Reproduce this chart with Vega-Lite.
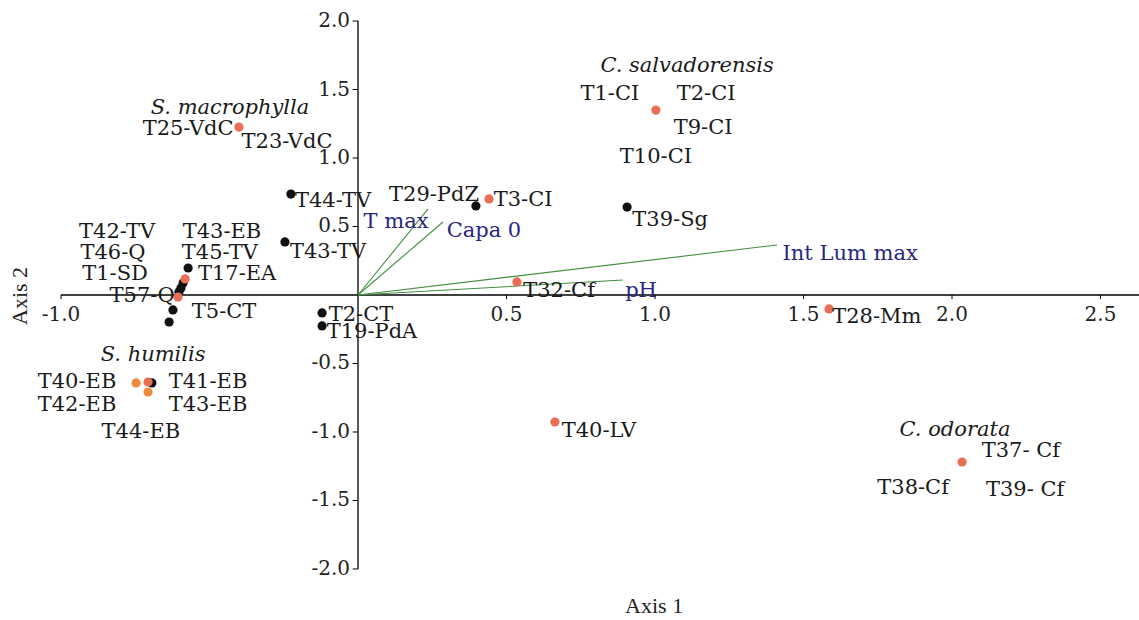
{
  "$schema": "https://vega.github.io/schema/vega-lite/v6.json",
  "width": 1139,
  "height": 620,
  "autosize": {"type": "none"},
  "padding": 0,
  "background": "white",
  "config": {"view": {"stroke": null}},
  "datasets": {
    "points": [
      {"x": -0.226, "y": 0.737, "group": "black"},
      {"x": 0.397, "y": 0.650, "group": "black"},
      {"x": 0.906, "y": 0.642, "group": "black"},
      {"x": -0.246, "y": 0.387, "group": "black"},
      {"x": -0.121, "y": -0.131, "group": "black"},
      {"x": -0.121, "y": -0.226, "group": "black"},
      {"x": -0.572, "y": 0.197, "group": "black"},
      {"x": -0.589, "y": 0.088, "group": "black"},
      {"x": -0.596, "y": 0.051, "group": "black"},
      {"x": -0.603, "y": 0.022, "group": "black"},
      {"x": -0.623, "y": -0.109, "group": "black"},
      {"x": -0.636, "y": -0.197, "group": "black"},
      {"x": -0.694, "y": -0.642, "group": "black"},
      {"x": -0.747, "y": -0.642, "group": "orange"},
      {"x": -0.707, "y": -0.708, "group": "orange"},
      {"x": -0.401, "y": 1.226, "group": "salmon"},
      {"x": 1.003, "y": 1.350, "group": "salmon"},
      {"x": 0.441, "y": 0.701, "group": "salmon"},
      {"x": 0.535, "y": 0.095, "group": "salmon"},
      {"x": 1.586, "y": -0.102, "group": "salmon"},
      {"x": 0.663, "y": -0.927, "group": "salmon"},
      {"x": 2.034, "y": -1.219, "group": "salmon"},
      {"x": -0.582, "y": 0.117, "group": "salmon"},
      {"x": -0.606, "y": -0.015, "group": "salmon"},
      {"x": -0.707, "y": -0.635, "group": "salmon"}
    ],
    "labels": [
      {"label": "T25-VdC", "x": -0.572, "y": 1.212},
      {"label": "T23-VdC", "x": -0.239, "y": 1.117},
      {"label": "T1-CI", "x": 0.848, "y": 1.467},
      {"label": "T2-CI", "x": 1.172, "y": 1.467},
      {"label": "T9-CI", "x": 1.162, "y": 1.219},
      {"label": "T10-CI", "x": 1.003, "y": 1.007},
      {"label": "T44-TV", "x": -0.084, "y": 0.686},
      {"label": "T29-PdZ", "x": 0.256, "y": 0.730},
      {"label": "T3-CI", "x": 0.556, "y": 0.693},
      {"label": "T39-Sg", "x": 1.051, "y": 0.547},
      {"label": "T42-TV", "x": -0.811, "y": 0.460},
      {"label": "T43-EB", "x": -0.458, "y": 0.460},
      {"label": "T46-Q", "x": -0.825, "y": 0.307},
      {"label": "T45-TV", "x": -0.465, "y": 0.307},
      {"label": "T43-TV", "x": -0.101, "y": 0.314},
      {"label": "T1-SD", "x": -0.818, "y": 0.153},
      {"label": "T17-EA", "x": -0.407, "y": 0.153},
      {"label": "T57-Q", "x": -0.727, "y": -0.007},
      {"label": "T5-CT", "x": -0.451, "y": -0.124},
      {"label": "T2-CT", "x": 0.010, "y": -0.146},
      {"label": "T19-PdA", "x": 0.047, "y": -0.270},
      {"label": "T32-Cf", "x": 0.677, "y": 0.029},
      {"label": "T28-Mm", "x": 1.747, "y": -0.161},
      {"label": "T40-EB", "x": -0.946, "y": -0.635},
      {"label": "T41-EB", "x": -0.505, "y": -0.635},
      {"label": "T42-EB", "x": -0.946, "y": -0.803},
      {"label": "T43-EB", "x": -0.505, "y": -0.803},
      {"label": "T44-EB", "x": -0.731, "y": -1.000},
      {"label": "T40-LV", "x": 0.811, "y": -0.993},
      {"label": "T37- Cf", "x": 2.232, "y": -1.139},
      {"label": "T38-Cf", "x": 1.869, "y": -1.409},
      {"label": "T39- Cf", "x": 2.246, "y": -1.423}
    ],
    "species": [
      {"label": "S. macrophylla", "x": -0.431, "y": 1.365},
      {"label": "C. salvadorensis", "x": 1.108, "y": 1.672},
      {"label": "S. humilis", "x": -0.690, "y": -0.438},
      {"label": "C. odorata", "x": 2.010, "y": -0.985}
    ],
    "vectors": [
      {"variable": "T max", "x": 0.236, "y": 0.628},
      {"variable": "Capa 0", "x": 0.286, "y": 0.533},
      {"variable": "Int Lum max", "x": 1.411, "y": 0.365},
      {"variable": "pH", "x": 0.892, "y": 0.109}
    ],
    "vectorLabels": [
      {"variable": "T max", "x": 0.128, "y": 0.533},
      {"variable": "Capa 0", "x": 0.424, "y": 0.467},
      {"variable": "Int Lum max", "x": 1.657, "y": 0.299},
      {"variable": "pH", "x": 0.953, "y": 0.029}
    ],
    "axisLines": [
      {"x": -1.0, "x2": 2.6296, "y": 0, "y2": 0},
      {"x": 0, "x2": 0, "y": -2.0, "y2": 2.0}
    ],
    "xTicks": [
      {"x": -1.0, "label": "-1.0"}, {"x": 0.5, "label": "0.5"}, {"x": 1.0, "label": "1.0"},
      {"x": 1.5, "label": "1.5"}, {"x": 2.0, "label": "2.0"}, {"x": 2.5, "label": "2.5"}
    ],
    "yTicks": [
      {"y": 2.0, "label": "2.0"}, {"y": 1.5, "label": "1.5"}, {"y": 1.0, "label": "1.0"},
      {"y": 0.5, "label": "0.5"}, {"y": -0.5, "label": "-0.5"}, {"y": -1.0, "label": "-1.0"},
      {"y": -1.5, "label": "-1.5"}, {"y": -2.0, "label": "-2.0"}
    ],
    "titles": [
      {"title": "Axis 1", "x": 0.997, "y": -2.268, "angle": 0},
      {"title": "Axis 2", "x": -1.138, "y": -0.007, "angle": 270}
    ]
  },
  "encoding": {
    "x": {"type": "quantitative", "scale": {"domain": [-1.2054, 2.6296], "nice": false, "zero": false}, "axis": null},
    "y": {"type": "quantitative", "scale": {"domain": [-2.3723, 2.1533], "nice": false, "zero": false}, "axis": null}
  },
  "layer": [
    {
      "data": {"name": "axisLines"},
      "mark": {"type": "rule", "color": "#000", "strokeWidth": 1.3},
      "encoding": {
        "x": {"field": "x", "type": "quantitative"},
        "x2": {"field": "x2"},
        "y": {"field": "y", "type": "quantitative"},
        "y2": {"field": "y2"}
      }
    },
    {
      "data": {"name": "xTicks"},
      "mark": {"type": "rule", "color": "#000", "strokeWidth": 1},
      "encoding": {
        "x": {"field": "x", "type": "quantitative"},
        "y": {"datum": 0, "type": "quantitative"},
        "y2": {"datum": -0.03}
      }
    },
    {
      "data": {"name": "xTicks"},
      "mark": {"type": "text", "font": "DejaVu Serif", "fontSize": 20, "color": "#222", "align": "center", "baseline": "top", "dy": 10},
      "encoding": {
        "x": {"field": "x", "type": "quantitative"},
        "y": {"datum": 0, "type": "quantitative"},
        "text": {"field": "label"}
      }
    },
    {
      "data": {"name": "yTicks"},
      "mark": {"type": "rule", "color": "#000", "strokeWidth": 1},
      "encoding": {
        "y": {"field": "y", "type": "quantitative"},
        "x": {"datum": -0.018, "type": "quantitative"},
        "x2": {"datum": 0}
      }
    },
    {
      "data": {"name": "yTicks"},
      "mark": {"type": "text", "font": "DejaVu Serif", "fontSize": 20, "color": "#222", "align": "right", "baseline": "middle", "dx": -8},
      "encoding": {
        "y": {"field": "y", "type": "quantitative"},
        "x": {"datum": 0, "type": "quantitative"},
        "text": {"field": "label"}
      }
    },
    {
      "data": {"name": "titles"},
      "mark": {"type": "text", "font": "Liberation Serif", "fontSize": 22, "color": "#222", "align": "center", "baseline": "middle"},
      "encoding": {
        "x": {"field": "x", "type": "quantitative"},
        "y": {"field": "y", "type": "quantitative"},
        "angle": {"field": "angle", "type": "quantitative", "scale": null},
        "text": {"field": "title"}
      }
    },
    {
      "data": {"name": "vectors"},
      "mark": {"type": "rule", "color": "#3f8f3f", "strokeWidth": 1.1},
      "encoding": {
        "x": {"field": "x", "type": "quantitative"},
        "y": {"field": "y", "type": "quantitative"},
        "x2": {"datum": 0},
        "y2": {"datum": 0}
      }
    },
    {
      "data": {"name": "vectorLabels"},
      "mark": {"type": "text", "font": "DejaVu Serif", "fontSize": 21, "color": "#27277f", "align": "center", "baseline": "middle"},
      "encoding": {
        "x": {"field": "x", "type": "quantitative"},
        "y": {"field": "y", "type": "quantitative"},
        "text": {"field": "variable"}
      }
    },
    {
      "data": {"name": "points"},
      "mark": {"type": "circle", "size": 85, "opacity": 1},
      "encoding": {
        "x": {"field": "x", "type": "quantitative"},
        "y": {"field": "y", "type": "quantitative"},
        "color": {
          "field": "group", "type": "nominal", "legend": null,
          "scale": {"domain": ["black", "orange", "salmon"], "range": ["#111111", "#f08b3c", "#e96e55"]}
        }
      }
    },
    {
      "data": {"name": "labels"},
      "mark": {"type": "text", "font": "DejaVu Serif", "fontSize": 21, "color": "#1a1a1a", "align": "center", "baseline": "middle"},
      "encoding": {
        "x": {"field": "x", "type": "quantitative"},
        "y": {"field": "y", "type": "quantitative"},
        "text": {"field": "label"}
      }
    },
    {
      "data": {"name": "species"},
      "mark": {"type": "text", "font": "DejaVu Serif", "fontSize": 21, "fontStyle": "italic", "color": "#1a1a1a", "align": "center", "baseline": "middle"},
      "encoding": {
        "x": {"field": "x", "type": "quantitative"},
        "y": {"field": "y", "type": "quantitative"},
        "text": {"field": "label"}
      }
    }
  ]
}
